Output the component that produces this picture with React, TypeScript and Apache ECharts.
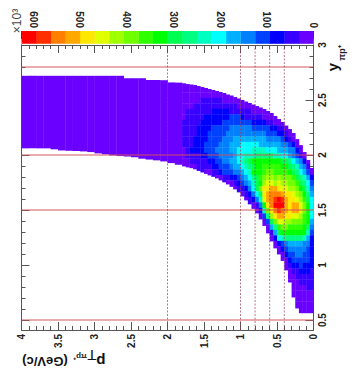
import React, { useEffect, useRef } from "react";
import * as echarts from "echarts";

const palette = ["#6a00ff","#3800ff","#0000ff","#0040ff","#0080ff","#00b0ff","#00ffff","#00ffc0","#00ff80","#00ff50","#00ff00","#30ff00","#70ff00","#a0ff00","#e0ff00","#ffe800","#ffa800","#ff7f00","#ff3000","#ff0000"];
const zBandWidth = 31.25;
const zMax = 625;
const yMin = 0.41;
const yMax = 3;
const pTMax = 4;
const yMajor = [0.5,1,1.5,2,2.5,3];
const yMinor = [0.6,0.7,0.8,0.9,1.1,1.2,1.3,1.4,1.6,1.7,1.8,1.9,2.1,2.2,2.3,2.4,2.6,2.7,2.8,2.9];
const redLineY = [0.5,1.5,2,2.8];
const dashedLinePT = [0.4,0.6,0.8,1,2];

// Rows from rapidity 2.72 downwards, 0.05 per row. Characters are colour levels (base 20); columns span pT 1.8 → 0, 0.05 per column.
const rowTopY = 2.72;
const rowStep = 0.05;
const colStart = 1.8;
const colStep = 0.05;
const hotRows = [
"....................................",
"00..................................",
"00000000............................",
"0000000000000.......................",
"0000011111100000....................",
"000111111111111000000...............",
"011111112222211111100000............",
"01111122222223332111110000..........",
"1111122222233333333222211000........",
"111122223333344444433333221100......",
"1111222333334444444444433322100.....",
"11122223333444555555555444432100....",
"11122233334445556666655555544320....",
"012222333444455666677776665554420...",
"0111122333444456677788888776654310..",
"001111122334455678 9aaaaaaaa99865420.".replace(" ",""),
".00011112233345 56789aabbbbbaa98754 1.".replace(/ /g,""),
"......001123334456 7aaabccbbbba986530".replace(" ",""),
".........0011223456 89bcddcdcccb98752".replace(" ",""),
"............00123457 9adeededdccb9863".replace(" ",""),
"..............0112469cffggfeeddca974",
"................012469fghhhgffedca85",
".................01247eghijigffedb96",
"...................0 14afhjjjgfggeca6".replace(" ",""),
"....................027cfhihgfggeca6",
".....................038dfggffeedba6",
"......................039ceeddcccba5",
".......................058bccbbbba94",
".......................0159aaaaaaa73",
"........................0267888887 52".replace(" ",""),
".........................02345555442",
"..........................023444443 2".replace(" ",""),
"...........................02334433 2".replace(" ",""),
"............................02333332",
"............................01223222",
".............................0112221",
".............................0011111",
".............................0001111",
"..............................000011",
"..............................000000",
"..............................000000",
"...............................00000",
"................................0000",
];
// Outline of the filled area for the columns above, in rapidity.
const colTopY = [2.652,2.645,2.641,2.636,2.627,2.618,2.609,2.6,2.591,2.582,2.573,2.564,2.55,2.541,2.527,2.514,2.5,2.486,2.473,2.459,2.445,2.432,2.418,2.4,2.382,2.355,2.327,2.3,2.268,2.236,2.2,2.145,2.09,2.027,1.955,1.882];
const colBottomY = [1.9,1.891,1.884,1.873,1.859,1.845,1.832,1.818,1.805,1.791,1.773,1.755,1.736,1.714,1.691,1.664,1.627,1.591,1.555,1.514,1.473,1.418,1.359,1.291,1.218,1.155,1.1,1.041,0.955,0.845,0.709,0.609,0.566,0.566,0.566,0.566];
// Lowest-level part at pT from 4 to 1.8, 0.1 per column.
const coldStart = 4;
const coldStep = 0.1;
const coldTopY = [2.72,2.72,2.72,2.72,2.72,2.72,2.72,2.72,2.72,2.72,2.72,2.72,2.72,2.72,2.698,2.698,2.698,2.682,2.682,2.68,2.66,2.658];
const coldBottomY = [2.064,2.064,2.064,2.064,2.055,2.045,2.042,2.04,2.036,2.03,2.018,2.01,2,1.994,1.99,1.983,1.97,1.962,1.955,1.945,1.93,1.915];

const cells: number[][] = [];
coldTopY.forEach((top, j) => {
  const hi = coldStart - coldStep * j;
  cells.push([hi - coldStep, hi, coldBottomY[j], top, 0]);
});
hotRows.forEach((row, i) => {
  for (let k = 0; k < row.length; k++) {
    const ch = row[k];
    if (ch === ".") continue;
    const level = parseInt(ch, 20);
    const pHi = colStart - colStep * k;
    const above = i > 0 ? hotRows[i - 1][k] : ".";
    const below = i + 1 < hotRows.length ? hotRows[i + 1][k] : ".";
    const hi = above === "." ? colTopY[k] : rowTopY - rowStep * i;
    const lo = below === "." ? colBottomY[k] : rowTopY - rowStep * (i + 1);
    cells.push([pHi - colStep, pHi, lo, hi, level]);
  }
});

const barCells = palette.map((_, l) => [l * zBandWidth, (l + 1) * zBandWidth, 0, 1, l]);

const rectItem = (overlap: number) => (_: any, api: any) => {
  const a = api.coord([api.value(1), api.value(3)]);
  const b = api.coord([api.value(0), api.value(2)]);
  return {
    type: "rect",
    shape: { x: a[0], y: a[1], width: b[0] - a[0] + overlap, height: b[1] - a[1] + overlap },
    style: { fill: palette[api.value(4)] },
  };
};

const frame = { lineStyle: { color: "#555", width: 1 } };
const labelFont = { fontFamily: "Liberation Sans", fontWeight: "bold" as const, fontSize: 10, color: "#222" };

export default function App() {
  const ref = useRef<HTMLDivElement>(null);
  useEffect(() => {
    const chart = echarts.init(ref.current!, undefined, { renderer: "svg" });
    const xBase = {
      type: "value", gridIndex: 0, inverse: true, min: 0, max: pTMax, interval: 0.5,
      axisLine: { show: true, onZero: false, ...frame },
      axisTick: { show: true, inside: true, length: 8, ...frame },
      minorTick: { show: true, splitNumber: 5, length: 4, lineStyle: { color: "#555" } },
      splitLine: { show: false }, minorSplitLine: { show: false },
    };
    const yBase = (position: string, vals: number[], len: number) => ({
      type: "value", gridIndex: 0, position, min: yMin, max: yMax,
      axisLine: { show: true, onZero: false, ...frame },
      axisTick: { show: true, inside: true, length: len, customValues: vals, ...frame },
      axisLabel: { show: false },
      splitLine: { show: false },
    });
    chart.setOption({
      animation: false,
      backgroundColor: "#fff",
      grid: [
        { left: 21.5, top: 45, width: 292, height: 285 },
        { left: 21.5, top: 31, width: 292, height: 12.5 },
      ],
      xAxis: [
        { ...xBase, position: "bottom",
          axisLabel: { ...labelFont, rotate: 90, margin: 4, formatter: (v: number) => String(v) } },
        { ...xBase, position: "top", axisLabel: { show: false } },
        { type: "value", gridIndex: 1, position: "top", inverse: true, min: 0, max: zMax, interval: 100,
          axisLine: { show: true, onZero: false, lineStyle: { color: "#777", width: 1 } },
          axisTick: { show: true, inside: true, length: 8, lineStyle: { color: "#333", width: 1 } },
          axisLabel: { ...labelFont, rotate: 90, margin: 3, formatter: (v: number) => (v > 600 ? "" : String(v)) },
          splitLine: { show: false } },
      ],
      yAxis: [
        { ...yBase("right", yMajor, 8),
          axisLabel: { ...labelFont, show: true, rotate: 90, margin: 4, customValues: yMajor, formatter: (v: number) => String(v) } },
        yBase("right", yMinor, 4),
        yBase("left", yMajor, 8),
        yBase("left", yMinor, 4),
        { type: "value", gridIndex: 1, min: 0, max: 1, show: false },
      ],
      series: [
        { type: "custom", xAxisIndex: 0, yAxisIndex: 0, data: cells, encode: { x: [0, 1], y: [2, 3] }, renderItem: rectItem(0.35), clip: true, silent: true, z: 1 },
        { type: "custom", xAxisIndex: 2, yAxisIndex: 4, data: barCells, encode: { x: [0, 1], y: [2, 3] }, renderItem: rectItem(0.3), silent: true, z: 1 },
        ...redLineY.map((y) => ({
          type: "line", xAxisIndex: 0, yAxisIndex: 0, symbol: "none", silent: true, z: 3,
          data: [[0, y], [pTMax, y]],
          lineStyle: { color: "rgba(212,80,85,0.48)", width: 2 },
        })),
        ...dashedLinePT.map((p) => ({
          type: "line", xAxisIndex: 0, yAxisIndex: 0, symbol: "none", silent: true, z: 4,
          data: [[p, yMin], [p, yMax]],
          lineStyle: { color: "rgba(140,60,85,0.68)", width: 1, type: [2, 1.5] },
        })),
      ],
      graphic: [
        { type: "text", x: 17, y: 21, rotation: Math.PI / 2, style: { text: "×10³", fontFamily: "Liberation Sans", fontSize: 12, fill: "#444", align: "center", verticalAlign: "middle" } },
        { type: "text", x: 332, y: 67, rotation: Math.PI / 2, style: { text: "y", fontFamily: "Liberation Sans", fontWeight: "bold", fontSize: 15, fill: "#111", align: "center", verticalAlign: "middle" } },
        { type: "text", x: 342, y: 53, rotation: Math.PI / 2, style: { text: "πp⁺", fontFamily: "Liberation Sans", fontWeight: "bold", fontSize: 9, fill: "#222", align: "center", verticalAlign: "middle" } },
        { type: "text", x: 101, y: 361, rotation: Math.PI, style: { text: "p", fontFamily: "Liberation Sans", fontWeight: "bold", fontSize: 15, fill: "#111", align: "center", verticalAlign: "middle" } },
        { type: "text", x: 92, y: 355, rotation: Math.PI, style: { text: "T", fontFamily: "Liberation Sans", fontSize: 15, fill: "#111", align: "center", verticalAlign: "middle" } },
        { type: "text", x: 80, y: 356, rotation: Math.PI, style: { text: "πp⁺", fontFamily: "Liberation Sans", fontWeight: "bold", fontSize: 8, fill: "#222", align: "center", verticalAlign: "middle" } },
        { type: "text", x: 45, y: 361, rotation: Math.PI, style: { text: "(GeV/c)", fontFamily: "Liberation Sans", fontWeight: "bold", fontSize: 13, fill: "#111", align: "center", verticalAlign: "middle" } },
      ],
    });
    return () => chart.dispose();
  }, []);
  return <div ref={ref} style={{ position: "fixed", left: 0, top: 0, width: 354, height: 374 }} />;
}
